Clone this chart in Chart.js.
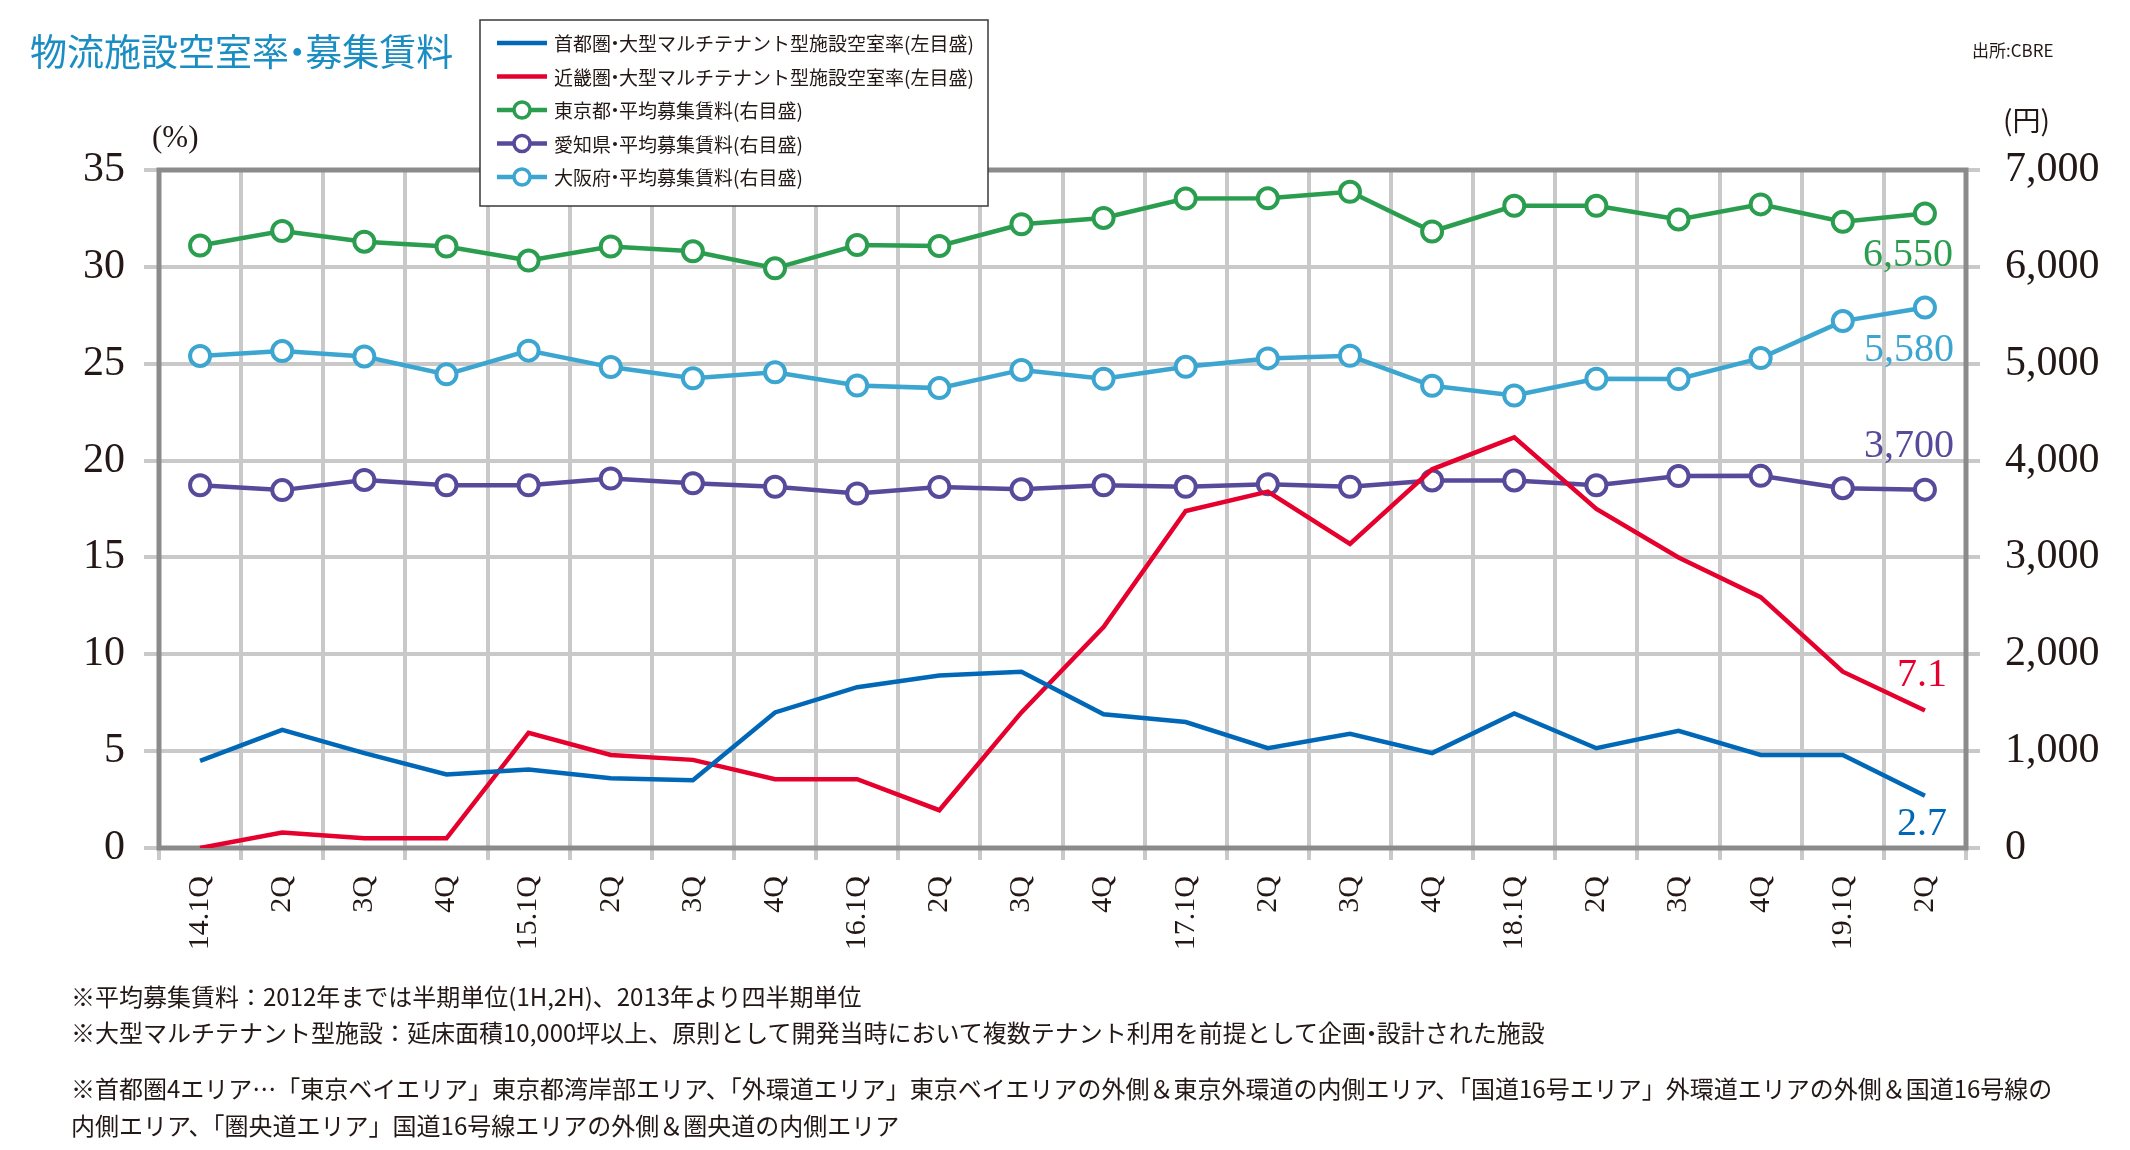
<!DOCTYPE html>
<html><head><meta charset="utf-8">
<script src="https://cdn.jsdelivr.net/npm/chart.js@4.4.1/dist/chart.umd.min.js"></script>
<style>
html,body{margin:0;padding:0;background:#fff;width:2130px;height:1150px;overflow:hidden;}
#wrap{position:relative;width:2130px;height:1150px;}
canvas{position:absolute;left:0;top:0;}
.t{position:absolute;white-space:nowrap;font-family:"Noto Sans CJK JP",sans-serif;color:#231815;}
.n{font-family:"Liberation Serif",serif;}
.dot{margin:0 -0.28em;}
</style></head><body>
<div id="wrap">
<canvas id="c" width="2130" height="1150"></canvas>
<div class="t" style="left:30px;top:26px;font-size:37px;line-height:48px;color:#1a8dc2;">物流施設空室率<span class="dot">・</span>募集賃料</div>
<div class="t" style="left:1972px;top:39px;font-size:17px;line-height:22px;">出所:CBRE</div>
<div class="t n" style="left:152px;top:120px;font-size:31px;line-height:34px;">(%)</div>
<div class="t" style="left:2003px;top:102px;font-size:28px;line-height:34px;">(円)</div>
<div class="t" style="left:71px;top:981px;font-size:24px;line-height:30px;">※平均募集賃料：2012年までは半期単位(1H,2H)、2013年より四半期単位</div>
<div class="t" style="left:71px;top:1017px;font-size:24px;line-height:30px;">※大型マルチテナント型施設：延床面積10,000坪以上、原則として開発当時において複数テナント利用を前提として企画<span class="dot">・</span>設計された施設</div>
<div class="t" style="left:71px;top:1073px;font-size:24px;line-height:30px;">※首都圏4エリア…「東京ベイエリア」東京都湾岸部エリア、「外環道エリア」東京ベイエリアの外側＆東京外環道の内側エリア、「国道16号エリア」外環道エリアの外側＆国道16号線の</div>
<div class="t" style="left:71px;top:1110px;font-size:24px;line-height:30px;">内側エリア、「圏央道エリア」国道16号線エリアの外側＆圏央道の内側エリア</div>
</div>
<script>
const categories = ['14.1Q','2Q','3Q','4Q','15.1Q','2Q','3Q','4Q','16.1Q','2Q','3Q','4Q','17.1Q','2Q','3Q','4Q','18.1Q','2Q','3Q','4Q','19.1Q','2Q'];
const tokyoVacancy = [4.5, 6.1, 4.9, 3.8, 4.05, 3.6, 3.5, 7.0, 8.3, 8.9, 9.1, 6.9, 6.5, 5.15, 5.9, 4.9, 6.95, 5.15, 6.05, 4.8, 4.8, 2.7];
const kinkiVacancy = [0, 0.8, 0.5, 0.5, 5.95, 4.8, 4.55, 3.55, 3.55, 1.95, 7.0, 11.4, 17.4, 18.4, 15.7, 19.55, 21.2, 17.5, 15.0, 12.95, 9.1, 7.1];
const tokyoRent = [6220, 6370, 6260, 6210, 6065, 6210, 6160, 5985, 6225, 6215, 6440, 6505, 6705, 6708, 6775, 6365, 6630, 6630, 6490, 6645, 6465, 6550];
const aichiRent = [3745, 3695, 3800, 3745, 3745, 3815, 3765, 3730, 3660, 3728, 3705, 3745, 3730, 3755, 3730, 3795, 3795, 3745, 3840, 3842, 3715, 3700];
const osakaRent = [5080, 5130, 5075, 4890, 5135, 4965, 4850, 4912, 4775, 4748, 4936, 4844, 4968, 5055, 5082, 4772, 4672, 4844, 4842, 5058, 5440, 5580];
const seriesNames = ['首都圏・大型マルチテナント型施設空室率(左目盛)','近畿圏・大型マルチテナント型施設空室率(左目盛)','東京都・平均募集賃料(右目盛)','愛知県・平均募集賃料(右目盛)','大阪府・平均募集賃料(右目盛)'];
const leftTicks = {min:0, max:35, step:5};
const rightTicks = {min:0, max:7000, step:1000};

const C = {blue:'#0068b7', red:'#e5002d', green:'#2b9d4f', purple:'#574a9a', sky:'#3ca6d1', grid:'#c9c9c9', frame:'#8b8b8b', text:'#231815'};

function lineDs(label, data, color){
  return {label, data, borderColor:color, backgroundColor:color, borderWidth:4.5, pointRadius:0, tension:0, yAxisID:'y', fill:false};
}
function markDs(label, data, color){
  return {label, data, borderColor:color, backgroundColor:color, borderWidth:4.5, pointRadius:10, pointBorderWidth:4, pointBackgroundColor:'#fff', pointBorderColor:color, tension:0, yAxisID:'y2', fill:false, marker:true};
}

const datasets = [
  lineDs(seriesNames[0], tokyoVacancy, C.blue),
  lineDs(seriesNames[1], kinkiVacancy, C.red),
  markDs(seriesNames[2], tokyoRent, C.green),
  markDs(seriesNames[3], aichiRent, C.purple),
  markDs(seriesNames[4], osakaRent, C.sky)
];
// end label placement relative to last point
const endLabelOffsets = [
  {dx:22, dy:29},
  {dx:22, dy:-35},
  {dx:28, dy:42},
  {dx:29, dy:-43},
  {dx:29, dy:43}
];

const framePlugin = {
  id:'frame',
  beforeDatasetsDraw(chart){
    const {ctx, chartArea:a} = chart;
    ctx.save();
    ctx.strokeStyle = C.frame; ctx.lineWidth = 5;
    ctx.strokeRect(a.left, a.top, a.right-a.left, a.bottom-a.top);
    ctx.restore();
  }
};
const endLabelPlugin = {
  id:'endLabels',
  afterDatasetsDraw(chart){
    const ctx = chart.ctx;
    ctx.save();
    ctx.font = '40px "Liberation Serif"';
    ctx.textAlign = 'right'; ctx.textBaseline = 'middle';
    chart.data.datasets.forEach((ds,i)=>{
      const meta = chart.getDatasetMeta(i);
      const p = meta.data[meta.data.length-1];
      const v = ds.data[ds.data.length-1];
      const txt = ds.marker ? v.toLocaleString('en-US') : v.toFixed(1);
      const o = endLabelOffsets[i];
      ctx.fillStyle = ds.borderColor;
      ctx.fillText(txt, p.x + o.dx, p.y + o.dy);
    });
    ctx.restore();
  }
};
function drawTightText(ctx, text, x, y, size){
  const parts = text.split('・');
  let cx = x;
  parts.forEach((part, k)=>{
    ctx.textAlign = 'left';
    ctx.fillText(part, cx, y);
    cx += ctx.measureText(part).width;
    if(k < parts.length-1){
      const dw = size*0.42;
      ctx.textAlign = 'center';
      ctx.fillText('・', cx + dw/2, y);
      cx += dw;
    }
  });
}
const legendPlugin = {
  id:'boxLegend',
  afterDraw(chart){
    const ctx = chart.ctx;
    const bx = 480, by = 20, bw = 508, bh = 186, fs = 19;
    ctx.save();
    ctx.fillStyle = '#fff';
    ctx.fillRect(bx, by, bw, bh);
    ctx.strokeStyle = '#3a3a3a'; ctx.lineWidth = 1.5;
    ctx.strokeRect(bx, by, bw, bh);
    ctx.font = fs + 'px "Noto Sans CJK JP"';
    ctx.textBaseline = 'middle';
    chart.data.datasets.forEach((ds,i)=>{
      const y = by + 23 + i*33.5;
      ctx.strokeStyle = ds.borderColor; ctx.lineWidth = 4.5;
      ctx.beginPath(); ctx.moveTo(bx+17, y); ctx.lineTo(bx+67, y); ctx.stroke();
      if(ds.marker){
        ctx.beginPath(); ctx.arc(bx+42, y, 8, 0, Math.PI*2);
        ctx.fillStyle = '#fff'; ctx.fill();
        ctx.lineWidth = 3.5; ctx.stroke();
      }
      ctx.fillStyle = C.text;
      drawTightText(ctx, ds.label, bx+74, y+1, fs);
    });
    ctx.restore();
  }
};

new Chart(document.getElementById('c').getContext('2d'), {
  type:'line',
  data:{labels:categories, datasets},
  options:{
    responsive:false, animation:false, devicePixelRatio:1,
    layout:{padding:{top:170, left:0, right:0, bottom:0}},
    plugins:{legend:{display:false}, tooltip:{enabled:false}, title:{display:false}},
    scales:{
      x:{
        offset:true,
        grid:{offset:true, color:C.grid, lineWidth:4, tickLength:12, drawTicks:true},
        border:{display:false},
        ticks:{autoSkip:false, minRotation:90, maxRotation:90, padding:16, color:C.text, font:{family:'Liberation Serif', size:30}},
        afterFit(s){ s.height = 302; }
      },
      y:{
        position:'left', min:leftTicks.min, max:leftTicks.max,
        ticks:{stepSize:leftTicks.step, padding:19, color:C.text, font:{family:'Liberation Serif', size:42}},
        grid:{color:C.grid, lineWidth:4, tickLength:15},
        border:{display:false},
        afterFit(s){ s.width = 159; }
      },
      y2:{
        position:'right', min:rightTicks.min, max:rightTicks.max,
        ticks:{stepSize:rightTicks.step, padding:25, color:C.text, font:{family:'Liberation Serif', size:42}, callback:v=>v.toLocaleString('en-US')},
        grid:{drawOnChartArea:false, color:C.grid, lineWidth:4, tickLength:14},
        border:{display:false},
        afterFit(s){ s.width = 164; }
      }
    }
  },
  plugins:[framePlugin, endLabelPlugin, legendPlugin]
});
</script>
</body></html>
